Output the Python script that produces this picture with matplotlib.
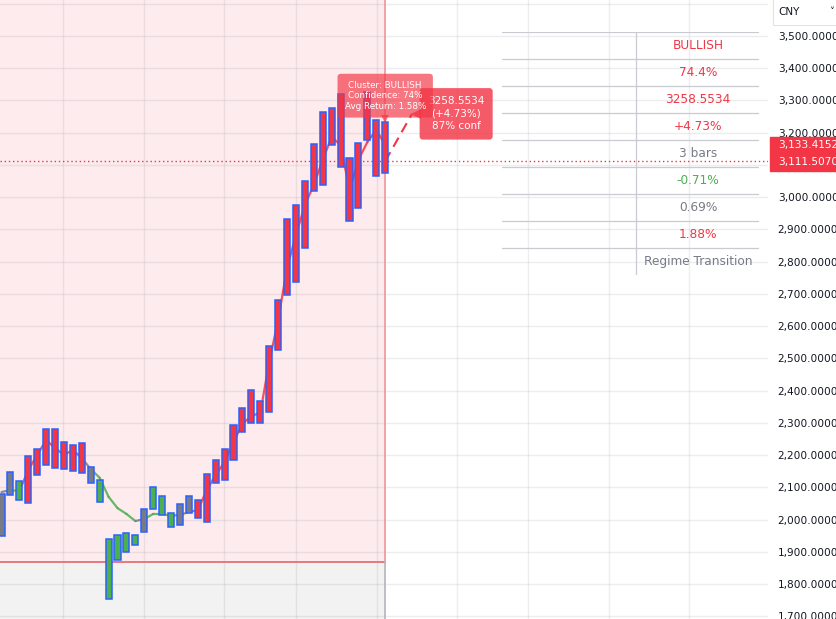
import matplotlib.pyplot as plt
from matplotlib.patches import Rectangle
from matplotlib.ticker import FuncFormatter, MultipleLocator

# cluster colour of each bar: R = bullish, G = bearish, N = neutral
clusters = list("NNGRRRRRRRNGGGGGNGGGNN" + "R" * 22)

# body top / bottom of each bar (price)
box_hi = [2080, 2148, 2120, 2198, 2219, 2281, 2281, 2241, 2232, 2238, 2164,
          2123, 1940, 1953, 1959, 1953, 2033, 2102, 2074, 2021, 2049, 2074,
          2061, 2142, 2185, 2219, 2294, 2347, 2402, 2368, 2539, 2681, 2933,
          2976, 3050, 3165, 3264, 3277, 3320, 3122, 3168, 3326, 3240, 3233]
box_lo = [1950, 2077, 2061, 2052, 2139, 2170, 2160, 2157, 2151, 2145, 2114,
          2055, 1754, 1875, 1900, 1922, 1962, 2033, 2015, 1978, 1984, 2021,
          2005, 1993, 2114, 2123, 2185, 2272, 2300, 2300, 2334, 2526, 2697,
          2737, 2843, 3019, 3038, 3162, 3094, 2926, 2967, 3178, 3066, 3075]

# smoothed line
smooth = [2086, 2092, 2089, 2154, 2201, 2247, 2222, 2201, 2216, 2191, 2157,
          2130, 2071, 2036, 2018, 1996, 2002, 2018, 2018, 2012, 2015, 2024,
          2030, 2092, 2139, 2179, 2241, 2297, 2322, 2331, 2489, 2619, 2781,
          2883, 2976, 3038, 3116, 3187, 3162, 3022, 3116, 3171, 3209, 3162]

current_price = 3111.5070
last_price = 3133.4152
target_price = 3258.5534
target_bars = 3
zone_floor = 1869
time_grid = [6.9, 16.0, 24.9, 33.0, 42.1, 51.1, 59.0, 68.1, 77.1]
covered_ticks = [3100, 3600]  # labels hidden under the badges

table_rows = ["BULLISH", "74.4%", "3258.5534", "+4.73%", "3 bars",
              "-0.71%", "0.69%", "1.88%", "Regime Transition"]
table_kinds = ["R", "R", "R", "R", "N", "G", "N", "R", "N"]

RED = "#f23645"
GREEN = "#4caf50"
GRAY = "#787b86"
colors = {"R": RED, "G": GREEN, "N": GRAY}

W, H = 837, 619
fig = plt.figure(figsize=(W / 100, H / 100), dpi=100)
fig.patch.set_facecolor("white")


def fx(px):
    return px / W


def fy(py):
    return 1 - py / H


ax = fig.add_axes([0, 0, 768 / W, 1])
x0, x1 = -0.17, 85.9
y0, y1 = 1692.2, 3611.6
ax.set_xlim(x0, x1)
ax.set_ylim(y0, y1)
for s in ax.spines.values():
    s.set_visible(False)

n = len(box_hi)
last = n - 1

# regime zone
ax.fill_between([x0, last], zone_floor, y1, color="#fdebed", lw=0, zorder=0)
ax.fill_between([x0, last], y0, zone_floor, color="#f2f2f2", lw=0, zorder=0)
ax.plot([x0, last], [zone_floor, zone_floor], color="#e5646f", lw=1.2, zorder=1)
ax.plot([last, last], [zone_floor, y1], color="#f0959c", lw=1.2, zorder=1)
ax.plot([last, last], [y0, zone_floor], color="#b2b5be", lw=1.2, zorder=1)

# grid
ax.set_axisbelow(True)
ax.yaxis.set_major_locator(MultipleLocator(100))
ax.set_xticks(time_grid)
ax.grid(True, color="#6a7280", alpha=0.12, lw=1)
ax.tick_params(axis="x", length=0, labelbottom=False)
ax.yaxis.tick_right()
ax.tick_params(axis="y", length=0, pad=7, labelsize=7.6, labelcolor="#131722")
ax.yaxis.set_major_formatter(FuncFormatter(
    lambda v, p: "" if round(v) in covered_ticks else f"{v:,.4f}"))

# smoothed line, segment coloured by cluster
for i in range(1, n):
    ax.plot([i - 1, i], [smooth[i - 1], smooth[i]],
            color=colors[clusters[i]], lw=1.6, alpha=0.85, zorder=2,
            solid_capstyle="round")

# bars
idx = list(range(n))
ax.bar(idx, [h - l for h, l in zip(box_hi, box_lo)], bottom=box_lo,
       width=0.68, color=[colors[c] for c in clusters],
       edgecolor="#2962ff", linewidth=1.1, zorder=3)

# current price line
ax.axhline(current_price, color=RED, lw=1, ls=(0, (1, 2)), zorder=2)

# projection
ax.plot([last, last + target_bars], [current_price, target_price],
        color=RED, lw=1.5, dashes=(5, 3), zorder=2)

# labels
ax.text(last, 3315, "Cluster: BULLISH\nConfidence: 74%\nAvg Return: 1.58%",
        ha="center", va="center", color="white", fontsize=6.3,
        linespacing=1.2, zorder=6,
        bbox=dict(boxstyle="round,pad=0.8,rounding_size=0.4",
                  fc=(242 / 255, 54 / 255, 69 / 255, 0.68), ec="none"))
ax.plot(last, 3244, marker="v", ms=6, mew=0,
        color=(242 / 255, 54 / 255, 69 / 255, 0.68), zorder=6)
ax.text(50.95, target_price, f"{target_price:.4f}\n(+4.73%)\n87% conf",
        ha="center", va="center", color="white", fontsize=7.5,
        linespacing=1.3, zorder=5,
        bbox=dict(boxstyle="round,pad=0.8,rounding_size=0.3",
                  fc=(242 / 255, 54 / 255, 69 / 255, 0.82), ec="none"))
ax.plot(46.5, target_price, marker="<", ms=7, mew=0,
        color=(242 / 255, 54 / 255, 69 / 255, 0.82), zorder=5)

# table
axt = fig.add_axes([fx(502), fy(275), 257 / W, 243 / H])
axt.axis("off")
axt.set_xlim(0, 257)
axt.set_ylim(9, 0)
for r in range(9):
    axt.plot([0, 257], [r, r], color="#c9cbd1", lw=0.9)
axt.plot([134, 134], [0, 9], color="#c9cbd1", lw=0.9)
for r, (t, k) in enumerate(zip(table_rows, table_kinds)):
    axt.text(196, r + 0.5, t, ha="center", va="center", fontsize=8.7,
             color=colors[k])

# price badges on the axis
fig.add_artist(Rectangle((fx(770), fy(171)), 70 / W, 34 / H,
                         transform=fig.transFigure, color=RED, zorder=10))
fig.text(fx(778), fy(145), f"{last_price:,.4f}", color="white",
         fontsize=7.6, va="center", zorder=11)
fig.text(fx(778), fy(162), f"{current_price:,.4f}", color="white",
         fontsize=7.6, va="center", zorder=11)

# currency selector
fig.add_artist(Rectangle((fx(773), fy(25)), 70 / W, 27 / H,
                         transform=fig.transFigure, fc="white",
                         ec="#e0e3eb", lw=0.8, zorder=10))
fig.text(fx(778), fy(12), "CNY", color="#131722", fontsize=7.5,
         va="center", zorder=11)
fig.text(fx(829), fy(12), "˅", color="#131722", fontsize=7,
         va="center", zorder=11)

fig.savefig("out.png", dpi=100)
